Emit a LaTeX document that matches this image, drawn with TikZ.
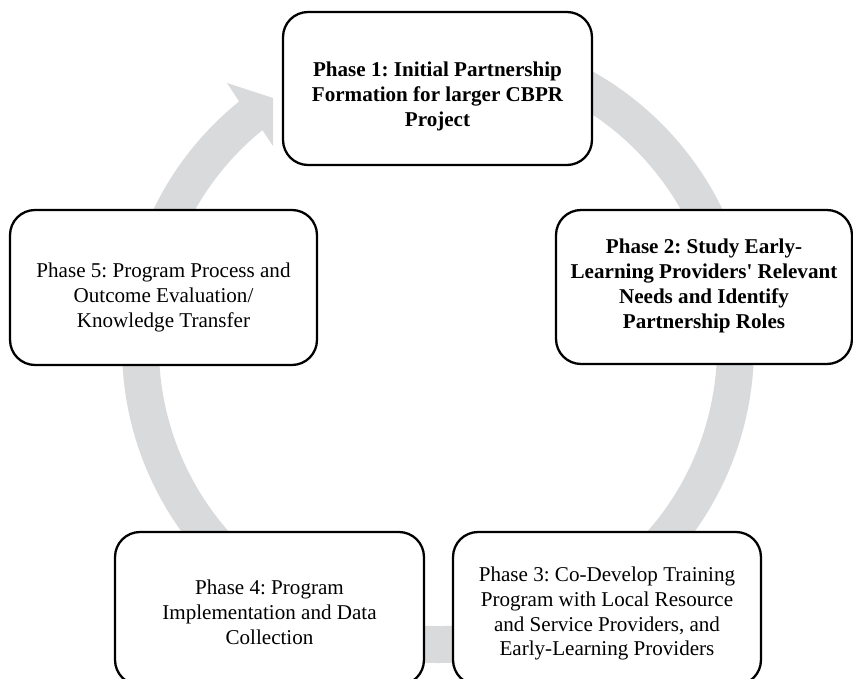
\documentclass[tikz,border=0pt]{standalone}
\usepackage{fontspec}
\setmainfont{Liberation Serif}
\usetikzlibrary{calc}
\definecolor{ringgray}{RGB}{217,218,220}
\frenchspacing

\begin{document}
\begin{tikzpicture}[x=0.02cm,y=-0.02cm,
  phase/.style={draw=black,line width=1.3pt,rounded corners=0.5cm,fill=white,
    inner sep=0pt,minimum height=3.06cm},
  phasetext/.style={align=center,inner sep=0pt,
    font=\fontsize{12}{14.2}\selectfont},
  keytext/.style={phasetext,font=\fontsize{12}{14.2}\selectfont\bfseries}]
  \useasboundingbox (0,0) rectangle (853,679);
  \clip (0,0) rectangle (853,679);
  \coordinate (c) at (438,347);
  % grey cycle arrow behind the boxes
  \fill[ringgray] ($(c)+(231:316)$) arc[start angle=231,end angle=-75,radius=316]
    -- ($(c)+(-75:279)$) arc[start angle=-75,end angle=231,radius=279]
    -- (273,146) -- (273,98) -- (227,83) -- cycle;
  % boxes
  \node[phase,minimum width=6.18cm] (p1) at (437.5,88.5) {};
  \node[phase,minimum width=5.92cm,minimum height=3.08cm] (p2) at (704,287) {};
  \node[phase,minimum width=6.16cm] (p3) at (607,608.5) {};
  \node[phase,minimum width=6.18cm] (p4) at (269.5,608.5) {};
  \node[phase,minimum width=6.14cm,minimum height=3.1cm] (p5) at (163.5,287.5) {};
  % texts
  \node[keytext] (t1) at ($(p1)+(0,8)$)
    {Phase 1: Initial Partnership\\Formation for larger CBPR\\Project};
  \node[keytext] (t2) at ($(p2)+(0,-1)$)
    {Phase 2: Study Early-\\Learning Providers\textquotesingle\ Relevant\\Needs and Identify\\Partnership Roles};
  \node[phasetext] (t3) at ($(p3)+(0,5)$)
    {Phase 3: Co-Develop Training\\Program with Local Resource\\and Service Providers, and\\Early-Learning Providers};
  \node[phasetext] (t4) at ($(p4)+(0,4)$)
    {Phase 4: Program\\Implementation and Data\\Collection};
  \node[phasetext] (t5) at ($(p5)+(0,10)$)
    {Phase 5: Program Process and\\Outcome Evaluation/\\Knowledge Transfer};
\end{tikzpicture}
\end{document}
